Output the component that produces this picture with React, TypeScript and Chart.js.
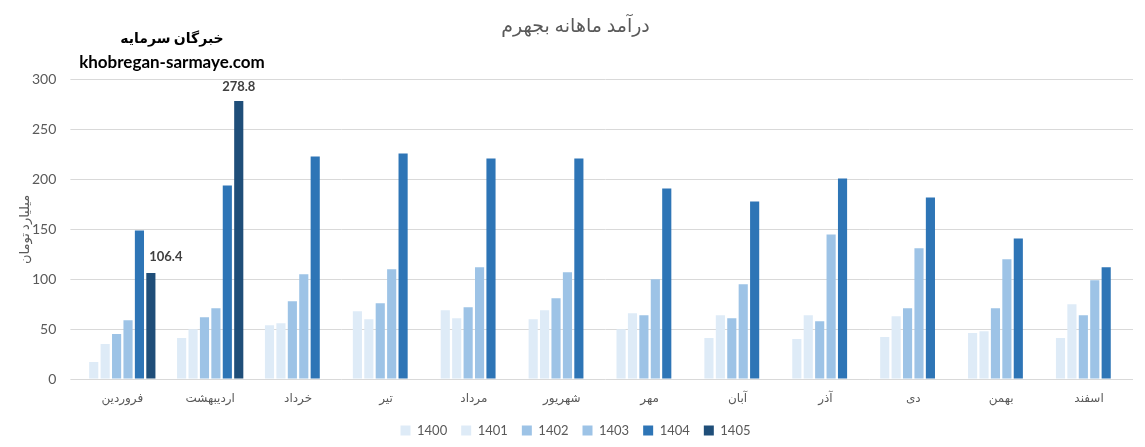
import React, { useEffect, useRef } from 'react';
import { Chart, registerables } from 'chart.js';

Chart.register(...registerables);

const months = ['فروردین', 'اردیبهشت', 'خرداد', 'تیر', 'مرداد', 'شهریور', 'مهر', 'آبان', 'آذر', 'دی', 'بهمن', 'اسفند'];
const years = ['1400', '1401', '1402', '1403', '1404', '1405'];

const y1400 = [17, 41, 54, 68, 69, 60, 50, 41, 40, 42, 46, 41];
const y1401 = [35, 50, 56, 60, 61, 69, 66, 64, 64, 63, 48, 75];
const y1402 = [45, 62, 78, 76, 72, 81, 64, 61, 58, 71, 71, 64];
const y1403 = [59, 71, 105, 110, 112, 107, 100, 95, 145, 131, 120, 99];
const y1404 = [149, 194, 223, 226, 221, 221, 191, 178, 201, 182, 141, 112];
const y1405 = [106.4, 278.8, null, null, null, null, null, null, null, null, null, null];

const yTicks = [0, 50, 100, 150, 200, 250, 300];
const yTitle = 'میلیارد تومان';

const colors = ['#deebf7', '#deebf7', '#9dc3e6', '#9dc3e6', '#2e75b6', '#1f4e79'];

const FONT = 'Lato, "DejaVu Sans", sans-serif';

const labelPlugin = {
    id: 'lastLabels',
    afterDatasetsDraw(chart: any) {
        const ctx = chart.ctx;
        const meta = chart.getDatasetMeta(5);
        ctx.save();
        ctx.font = 'bold 13px ' + FONT;
        ctx.fillStyle = '#404040';
        ctx.textAlign = 'center';
        ctx.textBaseline = 'bottom';
        meta.data.forEach((bar: any, i: number) => {
            const v = y1405[i];
            if (v == null) return;
            const dx = i === 0 ? 15 : 0;
            const dy = i === 0 ? -10 : -8;
            ctx.fillText(v.toFixed(1), bar.x + dx, bar.y + dy);
        });
        // y axis title, drawn by hand so it sits where the original has it
        const a = chart.chartArea;
        ctx.translate(25, (a.top + a.bottom) / 2);
        ctx.rotate(-Math.PI / 2);
        ctx.font = '13px ' + FONT;
        ctx.fillStyle = '#595959';
        ctx.textBaseline = 'middle';
        ctx.fillText(yTitle, 0, 0);
        ctx.restore();
    },
};

function App() {
    const chartRef = useRef<HTMLCanvasElement | null>(null);
    const chartInstance = useRef<Chart | null>(null);

    useEffect(() => {
        document.body.style.margin = '0';
        if (chartRef.current) {
            if (chartInstance.current) {
                chartInstance.current.destroy();
            }
            const series = [y1400, y1401, y1402, y1403, y1404, y1405];
            chartInstance.current = new Chart(chartRef.current, {
                type: 'bar',
                data: {
                    labels: months,
                    datasets: years.map((year, i) => ({
                        label: year,
                        data: series[i] as any,
                        backgroundColor: colors[i],
                        borderWidth: 0,
                        barPercentage: 0.8,
                        categoryPercentage: 0.78,
                    })),
                },
                options: {
                    animation: false,
                    responsive: true,
                    maintainAspectRatio: false,
                    layout: { padding: { left: 18, right: 12, top: 0, bottom: 0 } },
                    plugins: {
                        title: {
                            display: true,
                            text: 'درآمد ماهانه بجهرم',
                            color: '#595959',
                            font: { family: FONT, size: 19, weight: 'normal' },
                            padding: { top: 14, bottom: 43 },
                        },
                        legend: {
                            position: 'bottom',
                            labels: {
                                boxWidth: 10,
                                boxHeight: 10,
                                color: '#595959',
                                font: { family: FONT, size: 13 },
                                padding: 14,
                            },
                        },
                        tooltip: { enabled: false },
                    },
                    scales: {
                        x: {
                            grid: { display: false },
                            border: { display: false },
                            ticks: { color: '#595959', font: { family: FONT, size: 12 }, padding: 4.3 },
                        },
                        y: {
                            min: 0,
                            max: 300,
                            afterBuildTicks: (axis: any) => {
                                axis.ticks = yTicks.map(v => ({ value: v }));
                            },
                            grid: { color: '#d9d9d9', lineWidth: 1 },
                            border: { display: false },
                            ticks: { color: '#595959', font: { family: FONT, size: 14 }, padding: 14 },
                        },
                    },
                },
                plugins: [labelPlugin],
            });
        }
        return () => {
            if (chartInstance.current) {
                chartInstance.current.destroy();
                chartInstance.current = null;
            }
        };
    }, []);

    return (
        <div style={{ position: 'relative', width: 1145, height: 447, background: '#fff' }}>
            <canvas ref={chartRef} />
            <div style={{ position: 'absolute', left: 62, width: 220, top: 26, textAlign: 'center', fontFamily: FONT, fontWeight: 'bold', color: '#000', lineHeight: '24px' }}>
                <div style={{ fontSize: 14 }}>خبرگان سرمایه</div>
                <div style={{ fontSize: 17 }}>khobregan-sarmaye.com</div>
            </div>
        </div>
    );
}

export default App;
